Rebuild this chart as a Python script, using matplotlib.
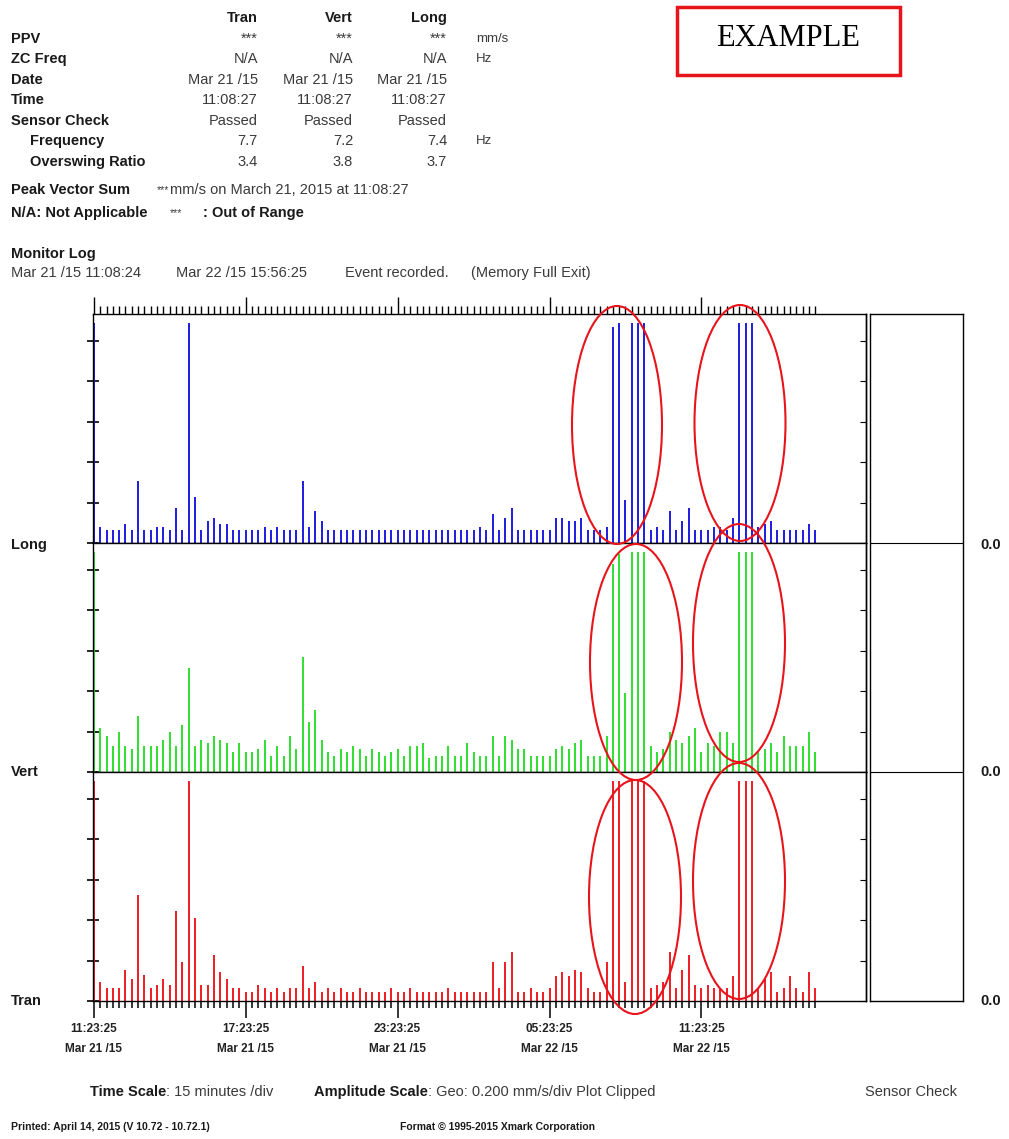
import matplotlib
matplotlib.use("Agg")
import matplotlib.pyplot as plt
from matplotlib.patches import Ellipse, Rectangle
import numpy as np

plt.rcParams['font.family'] = ['Liberation Sans', 'DejaVu Sans']

# ---------------- data (mm/s, one bar per 15 min interval) ----------------
channels = ["Long", "Vert", "Tran"]
interval_min = 15   # first interval ends 11:23:25 Mar 21 /15

long_vals = [
    1.09, 0.079, 0.063, 0.063, 0.063, 0.096, 0.063, 0.306, 0.063, 0.063,
    0.079, 0.079, 0.063, 0.172, 0.063, 1.09, 0.228, 0.063, 0.109, 0.126,
    0.096, 0.096, 0.063, 0.063, 0.063, 0.063, 0.063, 0.079, 0.063, 0.079,
    0.063, 0.063, 0.063, 0.306, 0.079, 0.159, 0.109, 0.063, 0.063, 0.063,
    0.063, 0.063, 0.063, 0.063, 0.063, 0.063, 0.063, 0.063, 0.063, 0.063,
    0.063, 0.063, 0.063, 0.063, 0.063, 0.063, 0.063, 0.063, 0.063, 0.063,
    0.063, 0.079, 0.063, 0.145, 0.063, 0.126, 0.172, 0.063, 0.063, 0.063,
    0.063, 0.063, 0.063, 0.126, 0.126, 0.109, 0.109, 0.126, 0.063, 0.063,
    0.063, 0.079, 1.07, 1.09, 0.215, 1.09, 1.09, 1.09, 0.063, 0.079,
    0.063, 0.158, 0.063, 0.109, 0.172, 0.063, 0.063, 0.063, 0.079, 0.079,
    0.063, 0.125, 1.09, 1.09, 1.09, 0.079, 0.092, 0.109, 0.063, 0.063,
    0.063, 0.063, 0.063, 0.096, 0.063,
]
vert_vals = [
    1.09, 0.217, 0.180, 0.131, 0.200, 0.131, 0.114, 0.279, 0.131, 0.131,
    0.131, 0.160, 0.200, 0.131, 0.231, 0.514, 0.131, 0.160, 0.144, 0.177,
    0.160, 0.144, 0.098, 0.144, 0.098, 0.098, 0.114, 0.160, 0.081, 0.131,
    0.081, 0.177, 0.114, 0.569, 0.246, 0.309, 0.160, 0.098, 0.081, 0.114,
    0.098, 0.131, 0.114, 0.081, 0.114, 0.098, 0.081, 0.098, 0.114, 0.081,
    0.131, 0.131, 0.144, 0.069, 0.081, 0.081, 0.131, 0.081, 0.081, 0.144,
    0.098, 0.081, 0.081, 0.177, 0.081, 0.177, 0.160, 0.114, 0.114, 0.081,
    0.081, 0.081, 0.081, 0.114, 0.131, 0.114, 0.144, 0.160, 0.081, 0.081,
    0.081, 0.177, 1.03, 1.08, 0.390, 1.09, 1.09, 1.09, 0.131, 0.098,
    0.114, 0.197, 0.160, 0.144, 0.177, 0.217, 0.098, 0.144, 0.131, 0.197,
    0.197, 0.144, 1.09, 1.09, 1.09, 0.098, 0.114, 0.144, 0.098, 0.177,
    0.131, 0.131, 0.131, 0.200, 0.098,
]
tran_vals = [
    1.09, 0.096, 0.063, 0.063, 0.063, 0.154, 0.107, 0.526, 0.129, 0.063,
    0.078, 0.107, 0.078, 0.446, 0.195, 1.09, 0.413, 0.078, 0.078, 0.228,
    0.142, 0.107, 0.063, 0.063, 0.046, 0.046, 0.078, 0.063, 0.046, 0.063,
    0.046, 0.063, 0.063, 0.174, 0.063, 0.096, 0.046, 0.063, 0.046, 0.063,
    0.046, 0.046, 0.063, 0.046, 0.046, 0.046, 0.046, 0.063, 0.046, 0.046,
    0.063, 0.046, 0.046, 0.046, 0.046, 0.046, 0.063, 0.046, 0.046, 0.046,
    0.046, 0.046, 0.046, 0.195, 0.063, 0.195, 0.243, 0.046, 0.046, 0.063,
    0.046, 0.046, 0.063, 0.126, 0.142, 0.126, 0.154, 0.142, 0.063, 0.046,
    0.046, 0.195, 1.09, 1.09, 0.096, 1.09, 1.09, 1.09, 0.063, 0.078,
    0.096, 0.243, 0.063, 0.154, 0.228, 0.078, 0.063, 0.078, 0.063, 0.063,
    0.063, 0.126, 1.09, 1.09, 1.09, 0.063, 0.107, 0.142, 0.046, 0.063,
    0.126, 0.063, 0.046, 0.142, 0.063,
]

time_ticks = [0, 360, 720, 1080, 1440]   # minutes after 11:23:25 Mar 21
time_labels = ["11:23:25\nMar 21 /15", "17:23:25\nMar 21 /15", "23:23:25\nMar 21 /15",
               "05:23:25\nMar 22 /15", "11:23:25\nMar 22 /15"]

# header table
header_cols = ["Tran", "Vert", "Long"]
row_names = ["PPV", "ZC Freq", "Date", "Time", "Sensor Check", "Frequency", "Overswing Ratio"]
row_values = [
    ["***", "***", "***"],
    ["N/A", "N/A", "N/A"],
    ["Mar 21 /15", "Mar 21 /15", "Mar 21 /15"],
    ["11:08:27", "11:08:27", "11:08:27"],
    ["Passed", "Passed", "Passed"],
    ["7.7", "7.2", "7.4"],
    ["3.4", "3.8", "3.7"],
]
row_units = ["mm/s", "Hz", "", "", "", "Hz", ""]

# ---------------- layout ----------------
W, H = 1009, 1139
fig = plt.figure(figsize=(W / 100, H / 100), dpi=100)


def px_rect(x0, y0, x1, y1):
    return [x0 / W, 1 - y1 / H, (x1 - x0) / W, (y1 - y0) / H]


colors = ['#1c1ce0', '#2ee02e', '#ee1c24']
series = [long_vals, vert_vals, tran_vals]
panel_tops = [314, 543, 772]
panel_h = 229

for i, (vals, col) in enumerate(zip(series, colors)):
    top = panel_tops[i]
    ax = fig.add_axes(px_rect(93, top, 866, top + panel_h))
    t = np.arange(len(vals)) * interval_min
    ax.vlines(t, 0, vals, color=col, lw=1.4)
    ax.set_xlim(-2, 1830)
    ax.set_ylim(0, 1.133)
    for sp in ax.spines.values():
        sp.set_linewidth(1.0)
    ax.set_yticks(np.arange(0, 1.01, 0.2))
    ax.tick_params(axis='y', left=True, right=False, labelleft=False,
                   direction='inout', length=8, width=1.2)
    sec = ax.secondary_yaxis('right')
    sec.set_yticks(np.arange(0, 1.01, 0.2))
    sec.tick_params(direction='in', length=4, width=0.8, labelright=False)
    sec.spines['right'].set_linewidth(1.0)

    minor = list(t)
    if i == 0:
        ax.set_xticks(time_ticks)
        ax.set_xticks(minor, minor=True)
        ax.tick_params(axis='x', which='both', top=True, bottom=False,
                       labeltop=False, labelbottom=False, direction='out', width=1.0)
        ax.tick_params(axis='x', which='major', length=12)
        ax.tick_params(axis='x', which='minor', length=6)
    elif i == 2:
        ax.set_xticks(time_ticks, labels=time_labels)
        ax.set_xticks(minor, minor=True)
        ax.tick_params(axis='x', which='both', direction='out', width=1.1)
        ax.tick_params(axis='x', which='major', length=12, pad=4)
        ax.tick_params(axis='x', which='minor', length=5)
        for lab in ax.get_xticklabels():
            lab.set_fontsize(8.5)
            lab.set_fontweight('bold')
            lab.set_linespacing(1.9)
            lab.set_color('#222222')
    else:
        ax.set_xticks([])

# sensor check box
sax = fig.add_axes(px_rect(870, 314, 963, 1001))
sax.set_xticks([])
sax.set_yticks([])
for sp in sax.spines.values():
    sp.set_linewidth(1.0)
sax.axhline(1 / 3, color='black', lw=0.8)
sax.axhline(2 / 3, color='black', lw=0.8)

# overlay in pixel coordinates for text and annotations
ov = fig.add_axes([0, 0, 1, 1], zorder=10)
ov.set_xlim(0, W)
ov.set_ylim(H, 0)
ov.axis('off')

fs = 10.5
dark = '#1a1a1a'
grey = '#3a3a3a'
col_x = [258, 353, 447]
row_y = [39, 59, 80, 100, 121, 141, 162]

for name, x in zip(header_cols, col_x):
    ov.text(x, 18, name, ha='right', va='center', fontsize=fs, fontweight='bold', color=dark)
for j, name in enumerate(row_names):
    x0 = 30 if name in ("Frequency", "Overswing Ratio") else 11
    ov.text(x0, row_y[j], name, ha='left', va='center', fontsize=fs, fontweight='bold', color=dark)
    for v, x in zip(row_values[j], col_x):
        ov.text(x, row_y[j], v, ha='right', va='center', fontsize=fs, color=grey)
    if row_units[j]:
        ov.text(476, row_y[j], row_units[j], ha='left', va='center', fontsize=fs - 1, color=grey)

ov.text(11, 190, "Peak Vector Sum", ha='left', va='center', fontsize=fs, fontweight='bold', color=dark)
ov.text(157, 190, "***", ha='left', va='center', fontsize=fs - 3, color=grey)
ov.text(170, 190, "mm/s on March 21, 2015 at 11:08:27", ha='left', va='center', fontsize=fs, color=grey)
ov.text(11, 213, "N/A: Not Applicable", ha='left', va='center', fontsize=fs, fontweight='bold', color=dark)
ov.text(170, 213, "***", ha='left', va='center', fontsize=fs - 3, color=grey)
ov.text(203, 213, ": Out of Range", ha='left', va='center', fontsize=fs, fontweight='bold', color=dark)

ov.text(11, 254, "Monitor Log", ha='left', va='center', fontsize=fs, fontweight='bold', color=dark)
for x, s in zip([11, 176, 345, 471],
                ["Mar 21 /15 11:08:24", "Mar 22 /15 15:56:25", "Event recorded.", "(Memory Full Exit)"]):
    ov.text(x, 273, s, ha='left', va='center', fontsize=fs, color=grey)

for name, y in zip(channels, [545, 772, 1001]):
    ov.text(11, y, name, ha='left', va='center', fontsize=fs, fontweight='bold', color=dark)
    ov.text(980, y, "0.0", ha='left', va='center', fontsize=fs, fontweight='bold', color=dark)

ov.text(90, 1092, "Time Scale", ha='left', va='center', fontsize=fs, fontweight='bold', color=dark)
ov.text(166, 1092, ": 15 minutes /div", ha='left', va='center', fontsize=fs, color=grey)
ov.text(314, 1092, "Amplitude Scale", ha='left', va='center', fontsize=fs, fontweight='bold', color=dark)
ov.text(428, 1092, ": Geo: 0.200 mm/s/div Plot Clipped", ha='left', va='center', fontsize=fs, color=grey)
ov.text(865, 1092, "Sensor Check", ha='left', va='center', fontsize=fs, color=grey)

ov.text(11, 1127, "Printed: April 14, 2015 (V 10.72 - 10.72.1)", ha='left', va='center',
        fontsize=7.5, fontweight='bold', color=dark)
ov.text(400, 1127, "Format \u00a9 1995-2015 Xmark Corporation", ha='left', va='center',
        fontsize=7.5, fontweight='bold', color=dark)

# "EXAMPLE" stamp
ov.add_patch(Rectangle((677, 7), 223, 68, fill=False, edgecolor='#e8141c', lw=2.5))
ov.text(788, 39, "EXAMPLE", ha='center', va='center', fontsize=22,
        family=['Liberation Serif', 'DejaVu Serif'], color='black')

# red highlight ellipses
for cx, cy, w, h in [(617, 425, 90, 238), (740, 423, 91, 236),
                     (636, 662, 92, 236), (739, 643, 92, 238),
                     (635, 897, 92, 234), (739, 881, 92, 236)]:
    ov.add_patch(Ellipse((cx, cy), w, h, fill=False, edgecolor='#e8141c', lw=1.5))

fig.savefig("out.png", dpi=100)
